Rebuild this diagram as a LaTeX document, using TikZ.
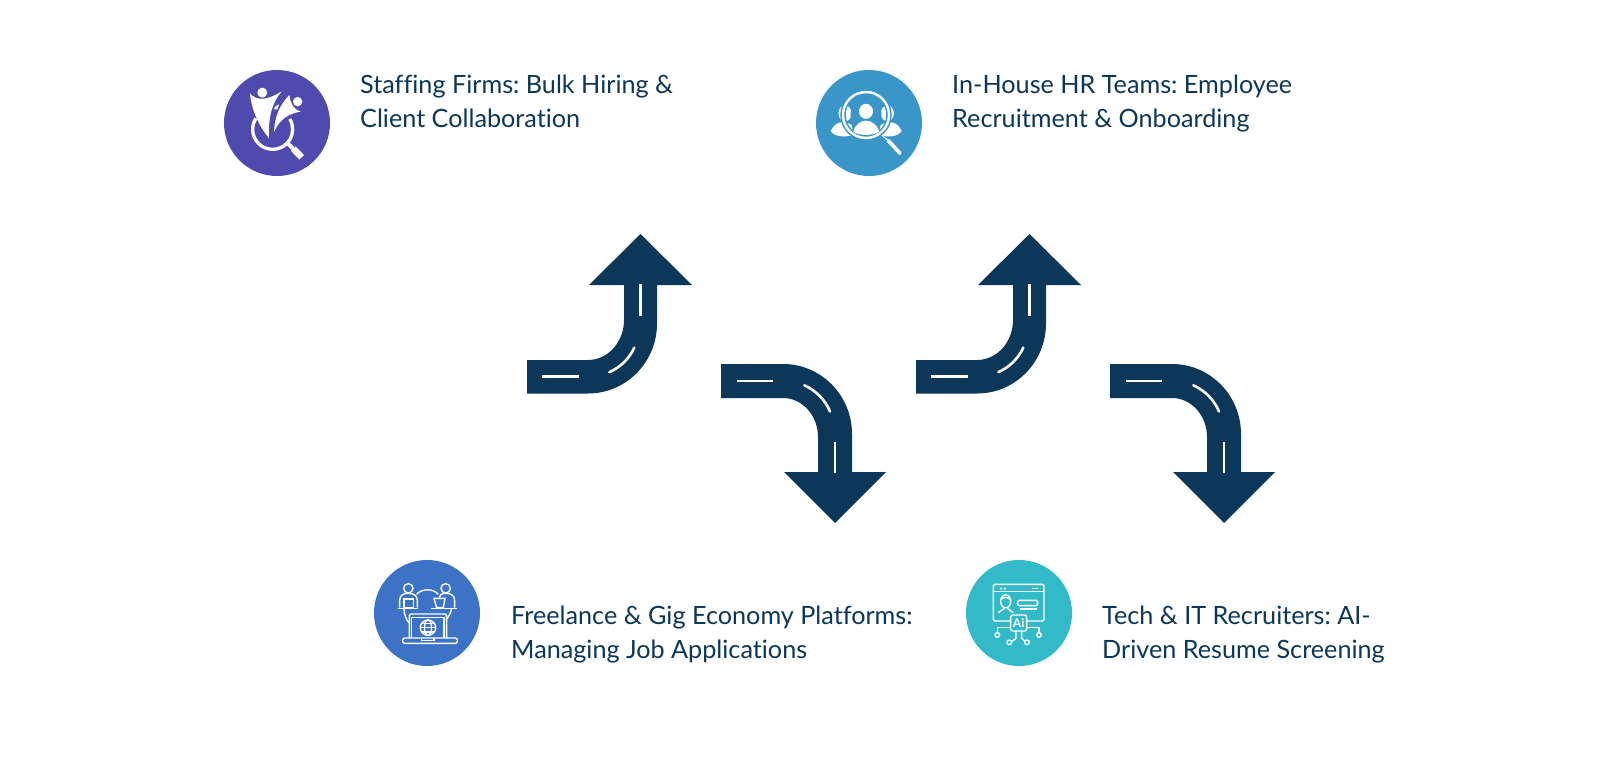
\documentclass[tikz,border=0pt]{standalone}
\usepackage{fontspec}
\setmainfont[Ligatures=NoCommon]{Lato}
\definecolor{navy}{HTML}{0C3759}
\definecolor{cA}{HTML}{4F4AAE}
\definecolor{cB}{HTML}{3A96C9}
\definecolor{cC}{HTML}{3C73C6}
\definecolor{cD}{HTML}{32BAC8}
\tikzset{
 label/.style={text=navy,anchor=west,align=left,inner sep=0pt,font=\fontsize{25.2}{34.5}\selectfont\frenchspacing},
 disc/.style={circle,minimum size=106pt,inner sep=0pt},
 lane/.style={draw=white,line width=2.6pt},
 upturn/.pic={
  \fill[navy] (0,-16.5) -- (61,-16.5) arc[start angle=-90,end angle=0,x radius=36pt,y radius=40pt] -- (97,-91.5) -- (62,-91.5) -- (113.5,-142.5) -- (165,-91.5) -- (130,-91.5) -- (130,-53) arc[start angle=0,end angle=-90,x radius=69pt,y radius=70pt] -- (0,17) -- cycle;
  \draw[lane] (15,0) -- (52,0);
  \draw[lane] (113.5,-92.5) -- (113.5,-60.5);
  \draw[lane,line cap=round] ([shift={(62,-50)}]-66:50pt) arc[start angle=-66,end angle=-25,radius=50pt];
 },
 downturn/.pic={
  \fill[navy] (0,-17) -- (62,-17) arc[start angle=90,end angle=0,x radius=69pt,y radius=70pt] -- (131,91) -- (165,91) -- (114,142) -- (63,91) -- (97,91) -- (97,56) arc[start angle=0,end angle=90,x radius=35pt,y radius=39pt] -- (0,17) -- cycle;
  \draw[lane] (16,0) -- (52,0);
  \draw[lane] (114,61) -- (114,92);
  \draw[lane,line cap=round] ([shift={(63,50)}]66:50pt) arc[start angle=66,end angle=23,radius=50pt];
 },
 ink/.style={draw=white,line width=1.35pt},
 zoomA/.style={x=0.3333pt,y=-0.3333pt},
}
\begin{document}
\begin{tikzpicture}[x=1pt,y=-1pt]
\useasboundingbox (0,0) rectangle (1600,781);
\fill[white] (0,0) rectangle (1600,781);
% arrows
\pic at (527,376.5) {upturn};
\pic at (721,381) {downturn};
\pic at (916,376.5) {upturn};
\pic at (1110,381) {downturn};
% discs
\node[disc,fill=cA] (staff) at (277,123) {};
\node[disc,fill=cB] (house) at (869,123) {};
\node[disc,fill=cC] (free) at (427,613) {};
\node[disc,fill=cD] (tech) at (1019,613) {};
% labels
\node[label] (stafft) at (360,103.4) {\strut Staffing Firms: Bulk Hiring \&\\\strut Client Collaboration};
\node[label] (houset) at (952,103.4) {\strut In-House HR Teams: Employee\\\strut Recruitment \& Onboarding};
\node[label] (freet) at (511,634.4) {\strut Freelance \& Gig Economy Platforms:\\\strut Managing Job Applications};
\node[label] (techt) at (1102,634.4) {\strut Tech \& IT Recruiters: AI-\\\strut Driven Resume Screening};
% icon A
\begin{scope}[shift={(200,50)},zoomA]
 \draw[white,line width=3.3pt] ([shift={(218,238)}]147:20pt) arc[start angle=147,end angle=391,radius=20pt];
 \draw[white,line width=4pt] (265,282) -- (280,296);
 \draw[white,line width=6.5pt] (280,296) -- (305,322);
 \fill[white] (187,128) circle[radius=5pt];
 \fill[white] (293,155) circle[radius=4.7pt];
 \fill[white] (150,130) .. controls (170,155) and (205,150) .. (245,124) .. controls (215,160) and (205,200) .. (207,265) .. controls (175,225) and (155,180) .. (150,130) -- cycle;
 \fill[white] (268,135) .. controls (272,165) and (285,180) .. (302,185) .. controls (270,190) and (240,205) .. (222,246) .. controls (225,195) and (240,165) .. (268,135) -- cycle;
 \fill[white] (225,170) -- (237,163) -- (232,178) -- (222,178) -- cycle;
\end{scope}
% icon B
\begin{scope}[shift={(790,50)},zoomA]
 \fill[white] (122,243) .. controls (135,215) and (160,210) .. (185,225) -- (190,255) .. controls (165,262) and (135,262) .. (122,243) -- cycle;
 \fill[white] (335,243) .. controls (322,215) and (297,210) .. (272,225) -- (267,255) .. controls (292,262) and (322,262) .. (335,243) -- cycle;
 \fill[white] (165,190) ellipse[x radius=6.5pt,y radius=8pt];
 \fill[white] (292,190) ellipse[x radius=6.5pt,y radius=8pt];
 \draw[cB,line width=5.5pt] (228,195) circle[radius=23pt];
 \fill[cB] (228,195) circle[radius=15.5pt];
 \draw[white,line width=2.4pt] (228,195) circle[radius=23pt];
 \fill[white] (228,184) ellipse[x radius=7pt,y radius=7.5pt];
 \fill[white] (190,245) .. controls (195,222) and (215,212) .. (228,212) .. controls (241,212) and (262,222) .. (268,245) .. controls (250,258) and (206,258) .. (190,245) -- cycle;
 \draw[white,line width=1pt] (278,258) -- (295,272);
 \draw[white,line width=3.6pt,line cap=round] (295,272) -- (330,310);
\end{scope}
% icon C
\begin{scope}[shift={(360,540)},zoomA]
 \draw[ink] (145,145) circle[radius=4.7pt];
 \draw[ink] (257,145) circle[radius=4.7pt];
 \draw[ink] (119,203) -- (119,182) .. controls (119,165) and (130,160) .. (145,160) .. controls (160,160) and (172,165) .. (172,182) -- (172,203);
 \draw[ink] (238,172) .. controls (238,165) and (245,160) .. (257,160) .. controls (272,160) and (284,165) .. (284,182) -- (284,203);
 \draw[ink] (132,177) -- (160,177) -- (160,203) -- (132,203) -- cycle;
 \draw[ink] (222,175) -- (255,175) -- (250,203) -- (230,203) -- cycle;
 \draw[ink] (115,205) -- (175,205);
 \draw[ink] (213,205) -- (292,205);
 \draw[ink] (170,163) .. controls (185,145) and (220,145) .. (235,163);
 \draw[ink] (132,207) .. controls (132,225) and (140,240) .. (148,250);
 \draw[ink] (275,207) .. controls (272,220) and (265,232) .. (258,240);
 \draw[ink,rounded corners=1.5pt] (148,295) -- (148,222) -- (260,222) -- (260,295);
 \draw[ink] (155,295) -- (155,232) -- (252,232) -- (252,295);
 \draw[ink,rounded corners=2pt] (128,294) rectangle (292,310);
 \draw[ink] (185,295) -- (185,301) -- (222,301) -- (222,295);
 \draw[ink] (204,263) circle[radius=7.7pt];
 \draw[ink] (204,263) ellipse[x radius=3.6pt,y radius=7.7pt];
 \draw[ink] (181,263) -- (227,263);
 \draw[ink] (186,250) -- (222,250);
 \draw[ink] (186,276) -- (222,276);
\end{scope}
% icon D
\begin{scope}[shift={(940,540)},zoomA]
 \draw[ink,rounded corners=1.5pt] (212,243) -- (160,243) -- (160,133) -- (312,133) -- (312,243) -- (260,243);
 \draw[ink] (160,155) -- (312,155);
 \fill[white] (183,146) circle[radius=1.3pt];
 \fill[white] (195,146) circle[radius=1.3pt];
 \draw[ink] (277,146) -- (295,146);
 \draw[ink] (197,184) ellipse[x radius=5pt,y radius=6.5pt];
 \draw[ink] (184,178) .. controls (190,170) and (205,170) .. (211,180);
 \draw[ink] (175,218) -- (193,205);
 \draw[ink] (220,218) -- (202,205);
 \draw[ink,rounded corners=1.5pt] (233,181) rectangle (293,197);
 \draw[ink] (240,207) -- (290,207);
 \draw[ink,rounded corners=2pt] (212,225) rectangle (260,273);
 \node[text=white,font=\bfseries\fontsize{12}{12}\selectfont,inner sep=0pt] (chip) at (236,249) {Ai};
 \draw[ink] (212,262) -- (172,262) -- (172,278);
 \draw[ink] (260,262) -- (297,262) -- (297,278);
 \draw[ink] (172,285) circle[radius=2.3pt];
 \draw[ink] (297,285) circle[radius=2.3pt];
 \draw[ink] (228,273) -- (228,295) -- (215,305);
 \draw[ink] (245,273) -- (245,295) -- (255,303);
 \draw[ink] (208,307) circle[radius=2.3pt];
 \draw[ink] (261,307) circle[radius=2.3pt];
\end{scope}
\end{tikzpicture}
\end{document}
